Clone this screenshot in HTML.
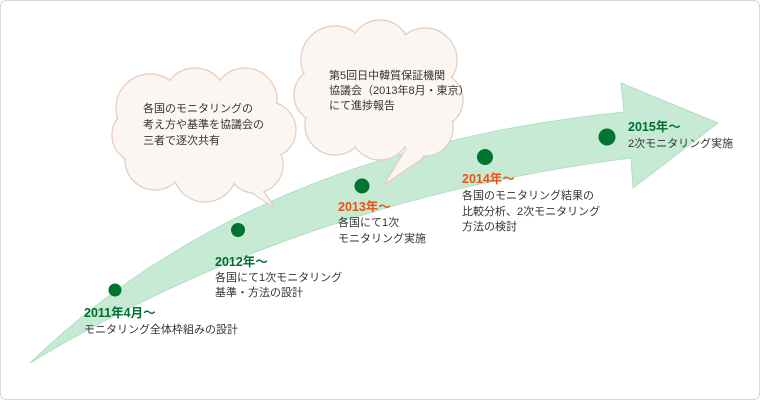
<!DOCTYPE html>
<html><head><meta charset="utf-8"><style>
body{margin:0;background:#fff;}
svg{display:block}
text{font-family:"Liberation Sans","Noto Sans CJK JP",sans-serif;font-size:11px;fill:#333}
.g{fill:#006e2e;font-weight:bold;font-size:12.5px}
.o{fill:#e85513;font-weight:bold;font-size:12.5px}
</style></head><body>
<svg width="760" height="400" viewBox="0 0 760 400">
<rect x="0.5" y="0.5" width="759" height="399" rx="6" fill="#fff" stroke="#d8d8d8"/>
<path d="M30,363 Q250,150 624,112 L621,83 L718,123 L633,188 L631,158 Q300,200 30,363 Z" fill="#c6ead3" stroke="#a9dbbb" stroke-width="0.8"/>
<g fill="#fcf6f2" stroke="#e5cbbd" stroke-width="1.2">
  <!-- left cloud outline -->
  <path d="M232,180 L275,208 L255,178 Z"/>
  <circle cx="150" cy="108" r="34"/><circle cx="195" cy="100" r="32"/><circle cx="245" cy="100" r="32"/>
  <circle cx="268" cy="130" r="28"/><circle cx="255" cy="165" r="28"/><circle cx="205" cy="170" r="32"/>
  <circle cx="155" cy="160" r="30"/><circle cx="140" cy="135" r="28"/>
  <!-- right cloud -->
  <path d="M405,150 L384,185 L435,150 Z"/>
  <circle cx="335" cy="60" r="34"/><circle cx="380" cy="50" r="30"/><circle cx="425" cy="60" r="32"/>
  <circle cx="435" cy="100" r="28"/><circle cx="425" cy="128" r="28"/><circle cx="380" cy="130" r="30"/>
  <circle cx="335" cy="125" r="30"/><circle cx="322" cy="95" r="28"/>
</g>
<g fill="#fcf6f2">
  <circle cx="150" cy="108" r="33"/><circle cx="195" cy="100" r="31"/><circle cx="245" cy="100" r="31"/>
  <circle cx="268" cy="130" r="27"/><circle cx="255" cy="165" r="27"/><circle cx="205" cy="170" r="31"/>
  <circle cx="155" cy="160" r="29"/><circle cx="140" cy="135" r="27"/><rect x="150" y="100" width="110" height="70"/>
  <path d="M234,181 L270,204 L254,176 Z"/>
  <circle cx="335" cy="60" r="33"/><circle cx="380" cy="50" r="29"/><circle cx="425" cy="60" r="31"/>
  <circle cx="435" cy="100" r="27"/><circle cx="425" cy="128" r="27"/><circle cx="380" cy="130" r="29"/>
  <circle cx="335" cy="125" r="29"/><circle cx="322" cy="95" r="27"/><rect x="330" y="60" width="100" height="70"/>
  <path d="M407,148 L388,181 L433,148 Z"/>
</g>
<g fill="#00752f">
<circle cx="115" cy="290" r="6.5"/><circle cx="238" cy="230" r="7"/><circle cx="362" cy="186" r="7.5"/>
<circle cx="485" cy="157" r="8"/><circle cx="607" cy="137" r="8.5"/>
</g>
<text x="143" y="112">各国のモニタリングの</text>
<text x="143" y="128">考え方や基準を協議会の</text>
<text x="143" y="144">三者で逐次共有</text>
<text x="329" y="79">第5回日中韓質保証機関</text>
<text x="329" y="94">協議会（2013年8月・東京）</text>
<text x="329" y="109">にて進捗報告</text>
<text class="g" x="84" y="317">2011年4月～</text>
<text x="84" y="333">モニタリング全体枠組みの設計</text>
<text class="g" x="215" y="266">2012年～</text>
<text x="215" y="281">各国にて1次モニタリング</text>
<text x="215" y="296">基準・方法の設計</text>
<text class="o" x="338" y="211">2013年～</text>
<text x="338" y="226">各国にて1次</text>
<text x="338" y="242">モニタリング実施</text>
<text class="o" x="462" y="183">2014年～</text>
<text x="462" y="199">各国のモニタリング結果の</text>
<text x="462" y="215">比較分析、2次モニタリング</text>
<text x="462" y="230">方法の検討</text>
<text class="g" x="628" y="131">2015年～</text>
<text x="628" y="147">2次モニタリング実施</text>
</svg>
</body></html>
